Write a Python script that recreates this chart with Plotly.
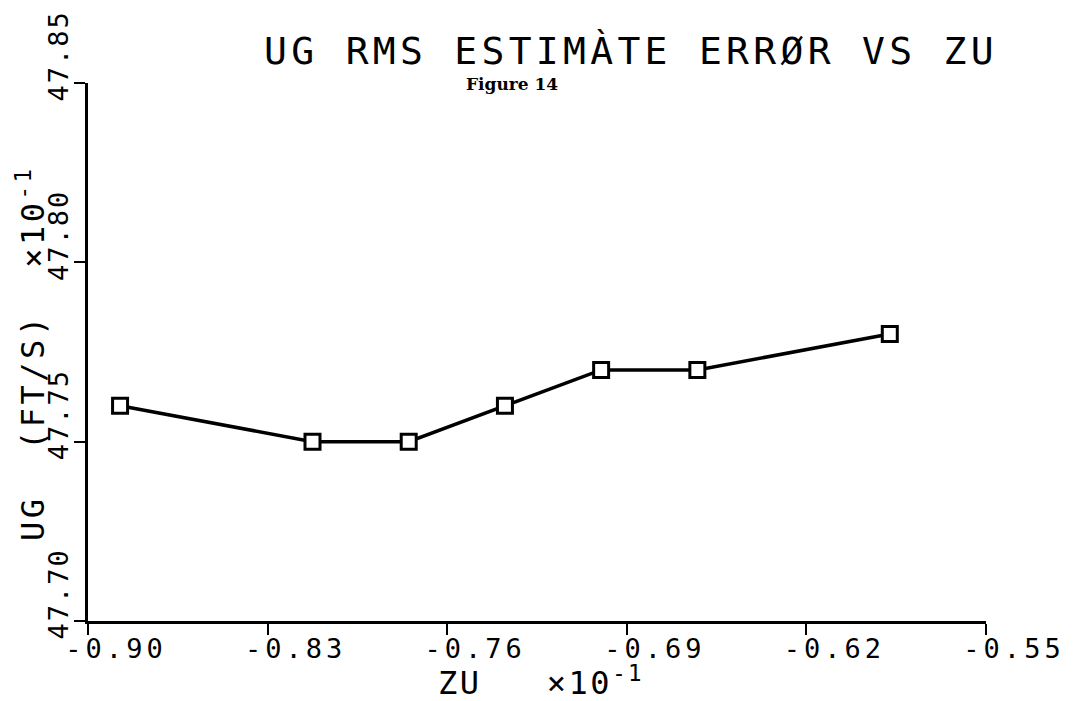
import plotly.graph_objects as go

# ---- data ----
zu = [-0.8875, -0.8125, -0.775, -0.7375, -0.70, -0.6625, -0.5875]
ug = [47.76, 47.75, 47.75, 47.76, 47.77, 47.77, 47.78]

x_ticks = [-0.90, -0.83, -0.76, -0.69, -0.62, -0.55]
x_tick_labels = ["-0.90", "-0.83", "-0.76", "-0.69", "-0.62", "-0.55"]
y_ticks = [47.70, 47.75, 47.80, 47.85]
y_tick_labels = ["47.70", "47.75", "47.80", "47.85"]

title_text = "UG RMS ESTIMÀTE ERRØR VS ZU"
subtitle_text = "Figure 14"
x_title = "ZU"
y_title = "UG  (FT/S)"
scale_text = "×10<sup>-1</sup>"

MONO = "DejaVu Sans Mono"
OFF = 8  # page body margin offset


def spaced(t, px):
    return f'<span style="letter-spacing:{px}px">{t}</span>'


fig = go.Figure()
fig.add_trace(go.Scatter(
    x=zu, y=ug, mode="lines+markers",
    line=dict(color="black", width=3.5),
    marker=dict(symbol="square", size=15, color="white",
                line=dict(color="black", width=3)),
    showlegend=False,
))

axis_common = dict(
    showgrid=False, zeroline=False, showline=True, linecolor="black",
    linewidth=2.5, ticks="outside", ticklen=11, tickwidth=2,
    tickcolor="black", tickfont=dict(family=MONO, size=27, color="black"),
    ticklabeloverflow="allow", automargin=False,
)

fig.update_xaxes(
    range=[-0.90, -0.55], tickmode="array", tickvals=x_ticks,
    ticktext=[spaced(t, 4) for t in x_tick_labels],
    ticklabelshift=28, ticklabelstandoff=-9, **axis_common,
)
fig.update_yaxes(
    range=[47.70, 47.85], tickmode="array", tickvals=y_ticks,
    ticktext=[spaced(t, 2) for t in y_tick_labels],
    tickangle=-90, ticklabelshift=-23, ticklabelstandoff=-5, **axis_common,
)

fig.update_layout(
    width=1077, height=701,
    margin=dict(l=88 - OFF, r=1077 - (986 - OFF), t=83 - OFF, b=701 - (621 - OFF),
                autoexpand=False),
    paper_bgcolor="white", plot_bgcolor="white",
    title=dict(
        text=spaced(title_text, 4.3), xref="container", yref="container",
        x=(631 - OFF) / 1077, y=1 - (51 - OFF) / 701,
        xanchor="center", yanchor="middle",
        font=dict(family=MONO, size=38, color="black"),
    ),
)

# subtitle
fig.add_annotation(
    text=f"<b>{subtitle_text}</b>", xref="paper", yref="paper",
    x=(512 - 88) / 898, y=(621 - 84) / 538, xanchor="center", yanchor="middle",
    showarrow=False, font=dict(family="DejaVu Serif", size=17, color="black"),
)
# x-axis title
fig.add_annotation(
    text=spaced(x_title + "   " + scale_text, 2.5), xref="paper", yref="paper",
    x=0.505, y=-(681 - 621) / 538, xanchor="center", yanchor="middle",
    showarrow=False, font=dict(family=MONO, size=32, color="black"),
)
# y-axis title
fig.add_annotation(
    text=spaced(y_title + "  " + scale_text, 3.5), xref="paper", yref="paper",
    x=-(88 - 31) / 898, y=(621 - 354) / 538, xanchor="center", yanchor="middle",
    textangle=-90, showarrow=False,
    font=dict(family=MONO, size=32, color="black"),
)

fig.write_html("out.html")
